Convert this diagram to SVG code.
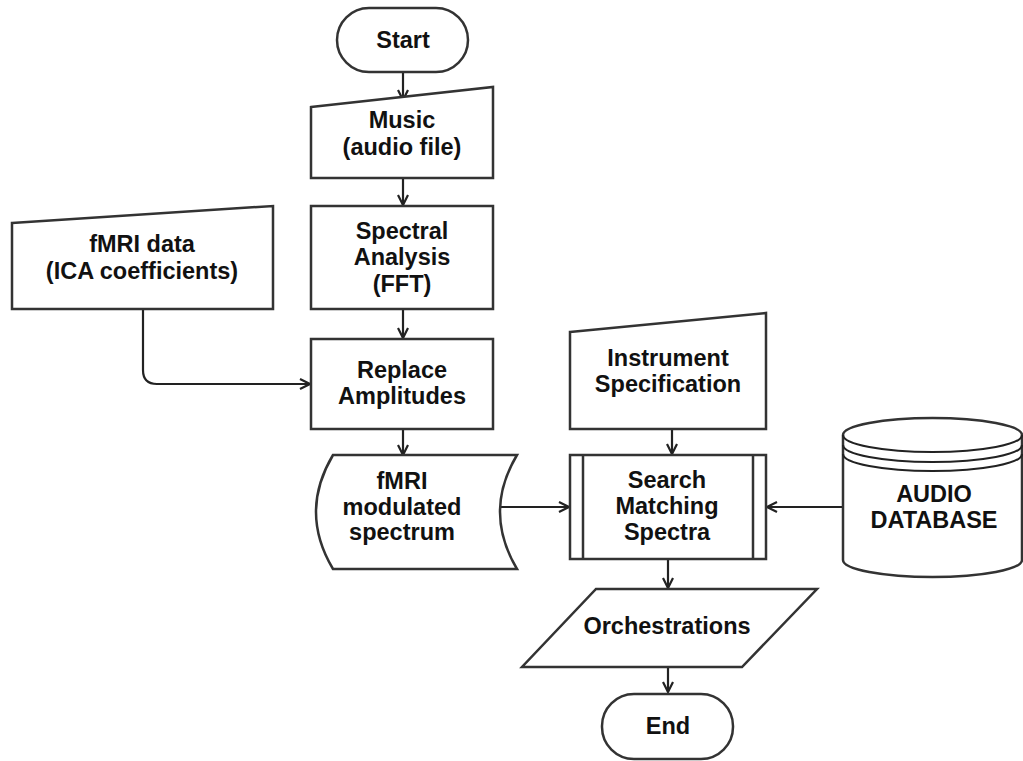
<svg xmlns="http://www.w3.org/2000/svg" width="1023" height="761" viewBox="0 0 1023 761">
<defs>
<style>
.s{fill:#fff;stroke:#333;stroke-width:2.5;stroke-linejoin:miter}
.c{fill:none;stroke:#222;stroke-width:2.2}
.t{font-family:"Liberation Sans",Arial,sans-serif;font-weight:bold;font-size:23.5px;fill:#111;text-anchor:middle}
</style>
<marker id="ah" viewBox="0 0 12 12" refX="11" refY="6" markerWidth="12" markerHeight="12" markerUnits="userSpaceOnUse" orient="auto">
<path d="M1,1 L11,6 L1,11" fill="none" stroke="#222" stroke-width="2.2"/>
</marker>
</defs>
<rect width="1023" height="761" fill="#fff"/>
<g id="connectors">
<path class="c" d="M403,72 V100" marker-end="url(#ah)"/>
<path class="c" d="M403,178 V205" marker-end="url(#ah)"/>
<path class="c" d="M403,309 V338" marker-end="url(#ah)"/>
<path class="c" d="M403,429 V455" marker-end="url(#ah)"/>
<path class="c" d="M143,309 V370 Q143,384 157,384 H310" marker-end="url(#ah)"/>
<path class="c" d="M493,507 H569" marker-end="url(#ah)"/>
<path class="c" d="M843,507 H767" marker-end="url(#ah)"/>
<path class="c" d="M672,429 V454" marker-end="url(#ah)"/>
<path class="c" d="M668,559 V588" marker-end="url(#ah)"/>
<path class="c" d="M668,667 V692" marker-end="url(#ah)"/>
</g>
<g id="start">
<rect class="s" x="337" y="8" width="131" height="64" rx="32"/>
<text class="t" x="403" y="48">Start</text>
</g>
<g id="music">
<path class="s" d="M311,107 L493,87 L493,178 L311,178 Z"/>
<text class="t" x="402" y="128">Music</text>
<text class="t" x="402" y="155">(audio file)</text>
</g>
<g id="spectral">
<rect class="s" x="311" y="206" width="182" height="103"/>
<text class="t" x="402" y="239">Spectral</text>
<text class="t" x="402" y="265">Analysis</text>
<text class="t" x="402" y="292">(FFT)</text>
</g>
<g id="fmri-data">
<path class="s" d="M12,223 L273,206 L273,309 L12,309 Z"/>
<text class="t" x="142" y="252">fMRI data</text>
<text class="t" x="142" y="279">(ICA coefficients)</text>
</g>
<g id="replace">
<rect class="s" x="311" y="339" width="182" height="90"/>
<text class="t" x="402" y="378">Replace</text>
<text class="t" x="402" y="404">Amplitudes</text>
</g>
<g id="spectrum">
<path class="s" d="M333,455 L517,455 Q483,512 517,569 L333,569 Q299,512 333,455 Z"/>
<text class="t" x="402" y="489">fMRI</text>
<text class="t" x="402" y="515">modulated</text>
<text class="t" x="402" y="540">spectrum</text>
</g>
<g id="instrument">
<path class="s" d="M570,332 L766,313 L766,429 L570,429 Z"/>
<text class="t" x="668" y="366">Instrument</text>
<text class="t" x="668" y="392">Specification</text>
</g>
<g id="search">
<rect class="s" x="570" y="455" width="196" height="104"/>
<line class="s" x1="583" y1="455" x2="583" y2="559"/>
<line class="s" x1="753" y1="455" x2="753" y2="559"/>
<text class="t" x="667" y="488">Search</text>
<text class="t" x="667" y="514">Matching</text>
<text class="t" x="667" y="540">Spectra</text>
</g>
<g id="database">
<path class="s" d="M843,435 A89.5,17 0 0 1 1022,435 V560 A89.5,17 0 0 1 843,560 Z"/>
<path class="c" d="M843,435 A89.5,17 0 0 0 1022,435"/>
<path class="c" d="M843,445 A89.5,17 0 0 0 1022,445"/>
<path class="c" d="M843,454 A89.5,17 0 0 0 1022,454"/>
<text class="t" x="934" y="502">AUDIO</text>
<text class="t" x="934" y="528">DATABASE</text>
</g>
<g id="orchestrations">
<path class="s" d="M596,589 L817,589 L742,667 L522,667 Z"/>
<text class="t" x="667" y="634">Orchestrations</text>
</g>
<g id="end">
<rect class="s" x="602" y="694" width="131" height="65" rx="32"/>
<text class="t" x="668" y="734">End</text>
</g>
</svg>
